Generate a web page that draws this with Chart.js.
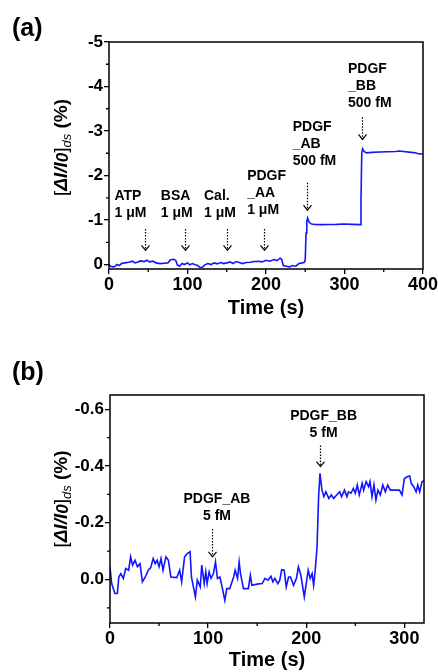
<!DOCTYPE html>
<html>
<head>
<meta charset="utf-8">
<script src="https://cdn.jsdelivr.net/npm/chart.js@4.4.1/dist/chart.umd.min.js"></script>
<style>
body { margin: 0; background: #fff; }
#wrap { position: relative; width: 438px; height: 672px; }
canvas { position: absolute; left: 0; }
#chartA { top: 0; }
#chartB { top: 330px; }
</style>
</head>
<body>
<div id="wrap">
  <canvas id="chartA" width="438" height="330"></canvas>
  <canvas id="chartB" width="438" height="342"></canvas>
</div>
<script>
const FONT = '"Liberation Sans", Arial, sans-serif'

// panel (a): time (s) and response (%)
const timeA = [0, 2, 5, 8, 10, 13, 16, 20, 25, 30,
    33, 36, 40, 45, 48, 52, 56, 60, 65, 70,
    75, 78, 82, 85, 87, 90, 93, 96, 100, 103,
    106, 110, 113, 116, 119, 122, 126, 130, 134, 138,
    142, 146, 150, 154, 158, 162, 166, 170, 175, 180,
    185, 190, 195, 200, 205, 210, 214, 218, 220, 222,
    226, 230, 234, 238, 242, 246, 249, 250, 251, 252,
    253, 255, 258, 262, 270, 280, 290, 300, 310, 320,
    321, 322, 323, 325, 328, 335, 345, 355, 365, 370,
    375, 385, 390, 395, 400]
const valueA = [0, 0.037, 0.052, 0.037, 0, 0.022, -0.022, -0.037, -0.052, -0.075,
    -0.037, -0.052, -0.082, -0.067, -0.097, -0.06, -0.075, -0.037, -0.022, -0.03,
    -0.037, -0.104, -0.119, -0.097, 0.007, 0.037, -0.022, 0, -0.037, 0.007,
    -0.022, 0.007, 0.022, 0.067, 0.06, 0.007, -0.022, 0, -0.037, -0.015,
    -0.045, -0.022, -0.037, -0.06, -0.022, -0.067, -0.045, -0.022, -0.045, -0.052,
    -0.067, -0.075, -0.06, -0.097, -0.075, -0.112, -0.09, -0.142, -0.112, 0.022,
    0.037, 0.052, 0.022, 0.037, -0.022, -0.037, -0.052, -0.112, -0.71, -0.97,
    -1.045, -0.95, -0.91, -0.903, -0.896, -0.9, -0.903, -0.91, -0.903, -0.896,
    -1.45, -2.5, -2.6, -2.54, -2.51, -2.52, -2.527, -2.535, -2.54, -2.55,
    -2.54, -2.52, -2.51, -2.485, -2.49]

// panel (b)
const timeB = [0, 1.7, 5, 7.5, 9, 11, 13.6, 16, 19, 21,
    23, 25.5, 28, 30.6, 33, 36, 39, 41.5, 44, 46,
    48, 50, 52, 54, 57, 59.5, 62, 68, 71, 73,
    76, 79, 81.6, 83, 87, 89, 92, 93.5, 96, 97.6,
    99, 101, 103, 105.4, 107.5, 109.5, 112, 114.6, 117, 119,
    122, 126, 127.5, 130, 131.6, 133, 136, 141, 143, 144.6,
    150, 155, 158, 161, 164, 166, 168, 171, 173, 175,
    177.5, 179.6, 182, 184, 187, 190, 192, 194.5, 198, 200,
    202, 204, 206, 207.5, 209, 211, 212.6, 214, 216, 218,
    220, 223, 225.5, 228, 231, 234, 236, 239, 241.5, 243,
    245.6, 248, 250, 252, 254, 257, 258.5, 261, 263.6, 265,
    267, 269, 271, 273, 275.5, 278, 280.6, 283, 285.7, 290.8,
    295, 297.6, 300, 302.7, 305.4, 307, 309.5, 312, 313.6, 315.6,
    318, 320]
const valueB = [-0.045, 0.014, 0.049, 0.049, -0.009, -0.021, -0.004, -0.039, -0.033, -0.080,
    -0.051, -0.068, -0.045, -0.056, 0.008, -0.009, -0.033, -0.042, -0.074, -0.056,
    -0.068, -0.045, -0.074, -0.033, -0.080, -0.068, -0.009, -0.007, -0.033, 0.008,
    -0.080, -0.092, -0.098, -0.009, 0.061, 0.002, 0.026, -0.051, 0.014, -0.027,
    0.014, -0.027, -0.004, -0.021, -0.062, -0.004, -0.009, 0.032, 0.073, 0.032,
    0.032, -0.009, -0.033, -0.004, -0.062, -0.021, 0.032, 0.032, -0.015, 0.020,
    0.016, 0.014, -0.004, 0.002, -0.012, 0.008, -0.004, 0.014, 0.002, -0.035,
    -0.033, 0.026, -0.009, -0.009, 0.020, -0.004, -0.045, -0.015, 0.061, 0.014,
    -0.033, -0.004, -0.021, 0.020, -0.027, -0.115, -0.292, -0.374, -0.315, -0.292,
    -0.309, -0.286, -0.298, -0.286, -0.298, -0.309, -0.292, -0.315, -0.292, -0.309,
    -0.304, -0.321, -0.304, -0.333, -0.298, -0.339, -0.315, -0.345, -0.327, -0.345,
    -0.292, -0.333, -0.280, -0.315, -0.298, -0.333, -0.309, -0.333, -0.315, -0.315,
    -0.315, -0.298, -0.356, -0.362, -0.365, -0.339, -0.327, -0.309, -0.333, -0.309,
    -0.345, -0.348]

// injections: label lines, where the text sits and where the arrow points
const labelsA = [['ATP', '1 μM'], ['BSA', '1 μM'], ['Cal.', '1 μM'],
    ['PDGF', '_AA', '1 μM'], ['PDGF', '_AB', '500 fM'], ['PDGF', '_BB', '500 fM']]
const labelTimeA = [7, 66, 121, 176, 234, 304.5]
const labelValueA = [-1.53, -1.53, -1.53, -1.98, -3.08, -4.40]
const arrowTimeA = [45.4, 96.4, 150.7, 197.5, 252, 322]
const arrowFromA = [-0.8, -0.8, -0.8, -0.8, -1.84, -3.31]
const arrowToA = [-0.32, -0.32, -0.32, -0.32, -1.22, -2.81]

const labelsB = [['PDGF_AB', '5 fM'], ['PDGF_BB', '5 fM']]
const labelTimeB = [109, 217.7]
const labelValueB = [-0.282, -0.574]
const arrowTimeB = [104.4, 213.6]
const arrowFromB = [-0.178, -0.472]
const arrowToB = [-0.08, -0.398]


function toPoints(xs, ys) {
    let n = Math.min(xs.length, ys.length)
    let pts = []
    for (let i = 0; i < n; i++) pts.push({x: xs[i], y: ys[i]})
    return pts
}


// frame, minor ticks, arrows, y title and panel letter
function decorPlugin(cfg) {
    return {
        id: 'decor',
        afterDraw(chart) {
            const ctx = chart.ctx
            const area = chart.chartArea
            const x = chart.scales.x
            const y = chart.scales.y
            ctx.save()

            //box
            ctx.strokeStyle = '#000'
            ctx.lineWidth = 1.5
            ctx.strokeRect(area.left, area.top, area.right - area.left, area.bottom - area.top)

            //minor ticks
            ctx.lineWidth = 1.3
            ctx.beginPath()
            x.ticks.forEach(t => {
                if (!cfg.isMajorX(t.value)) {
                    let px = x.getPixelForValue(t.value)
                    ctx.moveTo(px, area.bottom)
                    ctx.lineTo(px, area.bottom + 3)
                }
            })
            y.ticks.forEach(t => {
                if (!cfg.isMajorY(t.value)) {
                    let py = y.getPixelForValue(t.value)
                    ctx.moveTo(area.left, py)
                    ctx.lineTo(area.left - 3, py)
                }
            })
            ctx.stroke()

            //labels and arrows
            ctx.fillStyle = '#000'
            ctx.font = 'bold 14px ' + FONT
            ctx.textBaseline = 'middle'
            ctx.textAlign = cfg.align
            cfg.labels.forEach((lines, i) => {
                let tx = x.getPixelForValue(cfg.labelTime[i])
                let ty = y.getPixelForValue(cfg.labelValue[i])
                lines.forEach((s, k) => ctx.fillText(s, tx, ty + k * 17))

                let ax = Math.round(x.getPixelForValue(cfg.arrowTime[i])) + 0.5
                let y1 = y.getPixelForValue(cfg.arrowFrom[i])
                let y2 = y.getPixelForValue(cfg.arrowTo[i])
                ctx.lineWidth = 1.2
                ctx.setLineDash([1.5, 1.5])
                ctx.beginPath()
                ctx.moveTo(ax, y1)
                ctx.lineTo(ax, y2 - 1)
                ctx.stroke()
                ctx.setLineDash([])
                ctx.beginPath()
                ctx.moveTo(ax - 4, y2 - 5)
                ctx.lineTo(ax, y2)
                ctx.lineTo(ax + 4, y2 - 5)
                ctx.stroke()
            })

            //y title: [ΔI/I0]ds (%)
            let parts = [
                ['[', '19px ' + FONT, 0],
                ['ΔI/I', 'italic bold 19px ' + FONT, 0],
                ['0', 'italic bold 17px ' + FONT, 1],
                [']', '19px ' + FONT, 0],
                ['ds', 'italic 13px ' + FONT, 5],
                [' (%)', 'bold 19px ' + FONT, 0]
            ]
            let total = 0
            parts.forEach(p => { ctx.font = p[1]; total += ctx.measureText(p[0]).width })
            ctx.translate(cfg.titleX, (area.top + area.bottom) / 2 + cfg.titleShift)
            ctx.rotate(-Math.PI / 2)
            ctx.textAlign = 'left'
            ctx.textBaseline = 'middle'
            let cx = -total / 2
            parts.forEach(p => {
                ctx.font = p[1]
                ctx.fillText(p[0], cx, p[2])
                cx += ctx.measureText(p[0]).width
            })
            ctx.setTransform(1, 0, 0, 1, 0, 0)

            //panel letter
            ctx.font = 'bold 25px ' + FONT
            ctx.textAlign = 'left'
            ctx.fillText(cfg.letter, 12, cfg.letterY)
            ctx.restore()
        }
    }
}


function printTrace(canvasId, pts, sc, cfg) {
    new Chart(document.getElementById(canvasId), {
        type: 'line',
        data: {
            datasets: [{
                data: pts,
                borderColor: 'rgb(20, 20, 255)',
                borderWidth: 1.6,
                pointRadius: 0,
                tension: 0,
                fill: false
            }]
        },
        options: {
            responsive: false,
            animation: false,
            events: [],
            layout: {padding: {top: sc.top, right: sc.right, left: 0, bottom: 0}},
            plugins: {legend: {display: false}, tooltip: {enabled: false}},
            scales: {
                x: {
                    type: 'linear',
                    min: sc.xMin, max: sc.xMax,
                    afterFit: s => { s.height = sc.xHeight; s.paddingLeft = 0; s.paddingRight = 0 },
                    border: {display: false},
                    grid: {drawOnChartArea: false, color: '#000', lineWidth: 1.3, tickLength: 5,
                        tickColor: c => cfg.isMajorX(c.tick.value) ? '#000' : 'rgba(0,0,0,0)'},
                    ticks: {
                        stepSize: 50, includeBounds: false, autoSkip: false, maxRotation: 0,
                        padding: 0, color: '#000', font: {family: FONT, size: 18, weight: 'bold'},
                        callback: v => cfg.isMajorX(v) ? String(v) : ''
                    },
                    title: {display: true, text: 'Time (s)', color: '#000',
                        font: {family: FONT, size: 20, weight: 'bold'},
                        padding: {top: 0, bottom: sc.titlePad}}
                },
                y: {
                    type: 'linear',
                    reverse: true,
                    min: sc.yMin, max: sc.yMax,
                    afterFit: s => { s.width = sc.yWidth; s.paddingTop = 0; s.paddingBottom = 0 },
                    border: {display: false},
                    grid: {drawOnChartArea: false, color: '#000', lineWidth: 1.3, tickLength: 5,
                        tickColor: c => cfg.isMajorY(c.tick.value) ? '#000' : 'rgba(0,0,0,0)'},
                    ticks: {
                        stepSize: sc.yStep, includeBounds: false, autoSkip: false,
                        padding: 1, color: '#000', font: {family: FONT, size: 17, weight: 'bold'},
                        callback: v => cfg.isMajorY(v) ? cfg.fmtY(v) : ''
                    }
                }
            }
        },
        plugins: [decorPlugin(cfg)]
    })
}


printTrace('chartA', toPoints(timeA, valueA),
    {top: 42, right: 15, xHeight: 61, yWidth: 109, xMin: 0, xMax: 400, yMin: -5, yMax: 0.1, yStep: 0.5, titlePad: 10},
    {
        labels: labelsA, labelTime: labelTimeA, labelValue: labelValueA,
        arrowTime: arrowTimeA, arrowFrom: arrowFromA, arrowTo: arrowToA, align: 'left',
        isMajorX: v => Math.abs(v % 100) < 1e-6,
        isMajorY: v => Math.abs(v - Math.round(v)) < 1e-6,
        fmtY: v => String(Math.round(v)),
        titleX: 62, titleShift: -8, letter: '(a)', letterY: 29
    })

printTrace('chartB', toPoints(timeB, valueB),
    {top: 65, right: 14, xHeight: 49, yWidth: 110, xMin: 0, xMax: 320, yMin: -0.65, yMax: 0.153, yStep: 0.1, titlePad: 0},
    {
        labels: labelsB, labelTime: labelTimeB, labelValue: labelValueB,
        arrowTime: arrowTimeB, arrowFrom: arrowFromB, arrowTo: arrowToB, align: 'center',
        isMajorX: v => Math.abs(v % 100) < 1e-6,
        isMajorY: v => Math.round(v * 10) % 2 === 0,
        fmtY: v => Math.abs(v) < 1e-9 ? '0.0' : v.toFixed(1),
        titleX: 62, titleShift: -10, letter: '(b)', letterY: 43
    })
</script>
</body>
</html>
